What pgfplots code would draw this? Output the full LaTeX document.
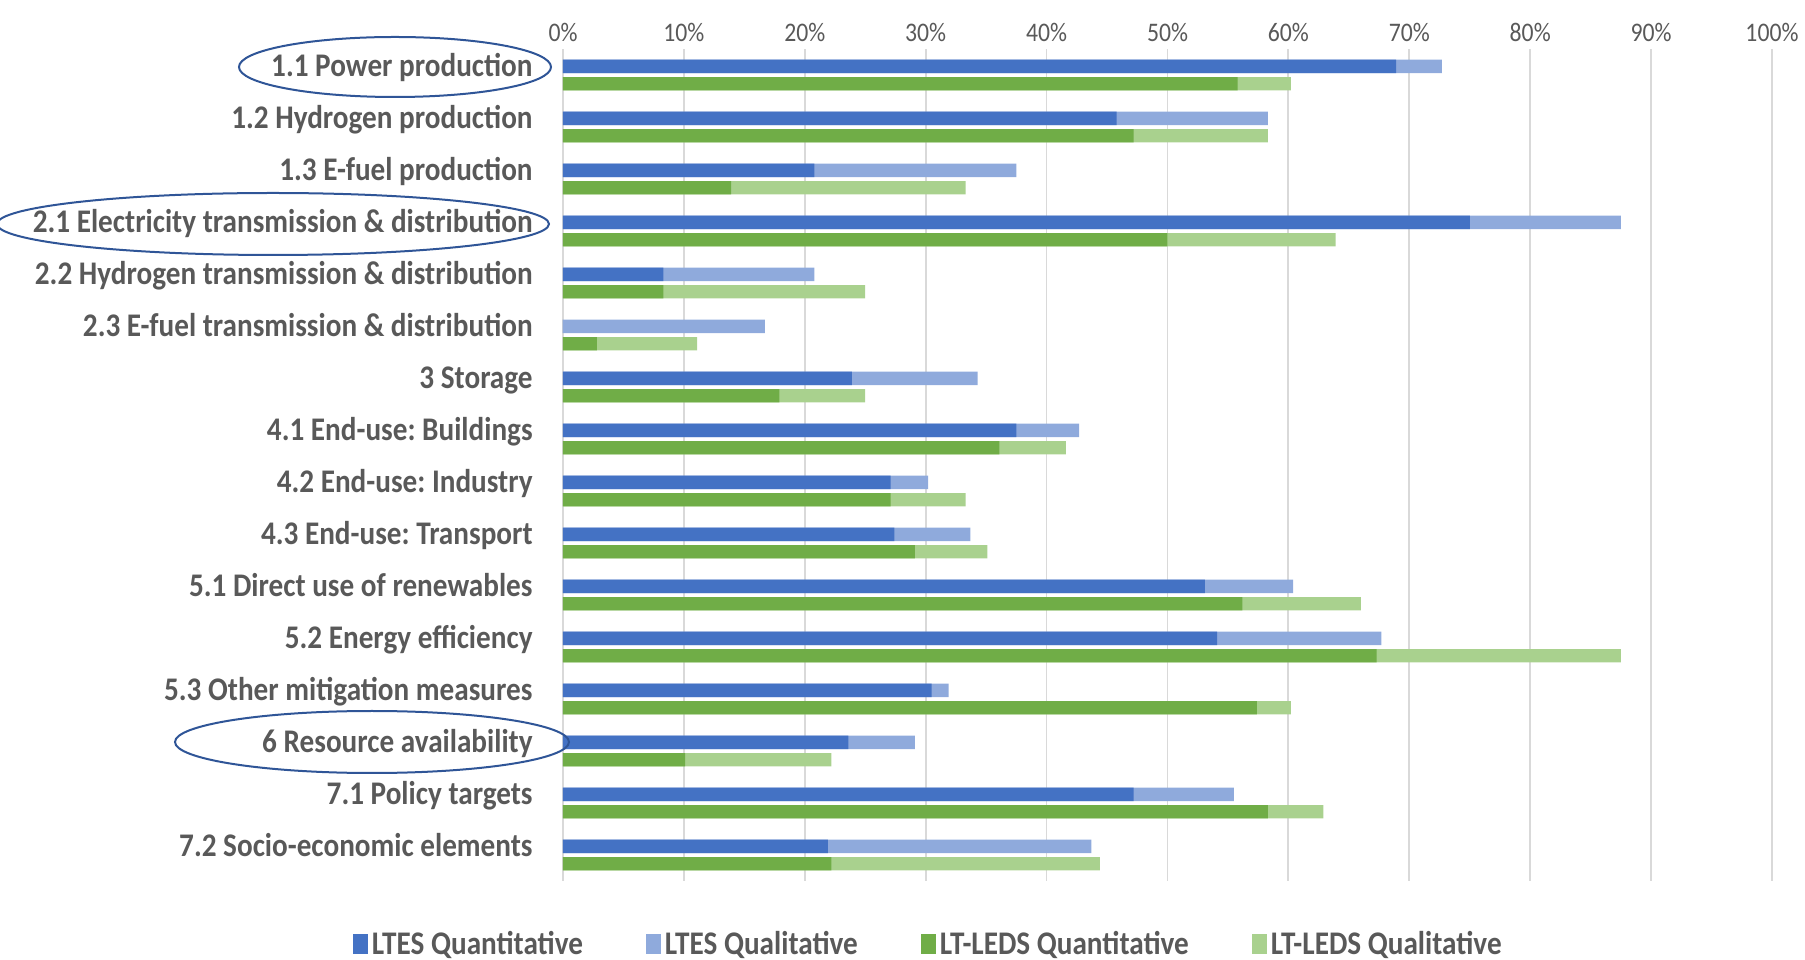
\documentclass[border=0pt]{standalone}
\usepackage{pgfplots}
\usepackage{pgfplotstable}
\pgfplotsset{compat=1.18}
\usepackage{fontspec}
\setmainfont{Carlito}[FakeStretch=0.885]
\frenchspacing
\definecolor{ltesq}{HTML}{4472C4}
\definecolor{ltesl}{HTML}{8FAADC}
\definecolor{ledsq}{HTML}{70AD47}
\definecolor{ledsl}{HTML}{A9D18E}
\definecolor{labgray}{HTML}{595959}
\definecolor{gridgray}{HTML}{D9D9D9}
\definecolor{ellcol}{HTML}{2F5597}
\pgfplotstableread{
idx ltesq ltest ledsq ledst
0 68.9 72.7 55.8 60.2
1 45.8 58.3 47.2 58.3
2 20.8 37.5 13.9 33.3
3 75.0 87.5 50.0 63.9
4 8.3 20.8 8.3 25.0
5 0 16.7 2.8 11.1
6 23.9 34.3 17.9 25.0
7 37.5 42.7 36.1 41.6
8 27.1 30.2 27.1 33.3
9 27.4 33.7 29.1 35.1
10 53.1 60.4 56.2 66.0
11 54.1 67.7 67.3 87.5
12 30.5 31.9 57.4 60.2
13 23.6 29.1 10.1 22.2
14 47.2 55.5 58.3 62.9
15 21.9 43.7 22.2 44.4
}\data
\begin{document}
\begin{tikzpicture}
\begin{axis}[
  at={(0,0)}, anchor=south west,
  scale only axis, width=604.5pt, height=416pt,
  xmin=0, xmax=100, ymin=-0.5, ymax=15.5, y dir=reverse,
  xbar, bar width=6.7pt,
  axis line style={draw=none},
  xtick={0,10,...,100},
  xticklabel pos=upper,
  xticklabel={\pgfmathprintnumber{\tick}\%},
  major tick length=0pt,
  xmajorgrids, major grid style={draw=gridgray, line width=0.9pt},
  ytick={0,...,15},
  yticklabels={1.1 Power production,1.2 Hydrogen production,1.3 E-fuel production,2.1 Electricity transmission \& distribution,2.2 Hydrogen transmission \& distribution,2.3 E-fuel transmission \& distribution,3 Storage,4.1 End-use: Buildings,4.2 End-use: Industry,4.3 End-use: Transport,5.1 Direct use of renewables,5.2 Energy efficiency,5.3 Other mitigation measures,6 Resource availability,7.1 Policy targets,7.2 Socio-economic elements},
  yticklabel style={font=\fontsize{16.5}{18}\selectfont\bfseries, text=labgray, inner sep=0pt, text height=11.5pt, text depth=3.5pt, xshift=-15pt, yshift=3.5pt},
  xticklabel style={font=\fontsize{13.4}{15}\selectfont, text=labgray},
  /pgf/number format/assume math mode=true,
  legend columns=4,
  legend cell align=left,
  legend style={draw=none, at={(0.303,-0.0757)}, anchor=center,
    font=\fontsize{16.5}{18}\selectfont\bfseries, text=labgray,
    /tikz/every even column/.append style={column sep=29.5pt}},
  legend image code/.code={\fill[#1] (0pt,-5pt) rectangle (7.5pt,5pt);},
]
\addplot[forget plot, fill=ltesl, draw=none, bar shift=4.35pt] table[x=ltest, y=idx] {\data};
\addplot[forget plot, fill=ltesq, draw=none, bar shift=4.35pt] table[x=ltesq, y=idx] {\data};
\addplot[forget plot, fill=ledsl, draw=none, bar shift=-4.35pt] table[x=ledst, y=idx] {\data};
\addplot[forget plot, fill=ledsq, draw=none, bar shift=-4.35pt] table[x=ledsq, y=idx] {\data};
\addlegendimage{fill=ltesq, draw=none}
\addlegendentry{LTES Quantitative}
\addlegendimage{fill=ltesl, draw=none}
\addlegendentry{LTES Qualitative}
\addlegendimage{fill=ledsq, draw=none}
\addlegendentry{LT-LEDS Quantitative}
\addlegendimage{fill=ledsl, draw=none}
\addlegendentry{LT-LEDS Qualitative}
\end{axis}
\draw[ellcol, line width=1pt] (-84pt,407pt) ellipse [x radius=78pt, y radius=15pt];
\draw[ellcol, line width=1pt] (-145pt,328.5pt) ellipse [x radius=138pt, y radius=15.5pt];
\draw[ellcol, line width=1pt] (-95.5pt,69.5pt) ellipse [x radius=98.5pt, y radius=15.5pt];
\pgfresetboundingbox
\path[use as bounding box] (-281.5pt,-39pt) rectangle (621pt,440.5pt);
\end{tikzpicture}
\end{document}
